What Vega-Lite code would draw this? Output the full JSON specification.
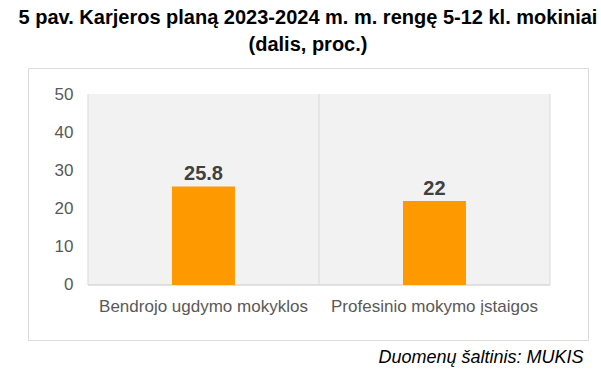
{
  "$schema": "https://vega.github.io/schema/vega-lite/v6.json",
  "autosize": "none",
  "width": 560,
  "height": 272,
  "padding": {"left": 28, "top": 68, "right": 13, "bottom": 35},
  "background": "white",
  "config": {
    "view": {"stroke": "#d9d9d9", "strokeWidth": 1},
    "font": "Liberation Sans"
  },
  "title": {
    "text": ["5 pav. Karjeros planą 2023-2024 m. m. rengę 5-12 kl. mokiniai", "(dalis, proc.)"],
    "font": "Liberation Sans",
    "fontSize": 20,
    "fontWeight": "bold",
    "color": "#000000",
    "lineHeight": 27,
    "anchor": "middle",
    "frame": "group",
    "offset": 13
  },
  "data": {
    "values": [
      {"cat": "Bendrojo ugdymo mokyklos", "value": 25.8},
      {"cat": "Profesinio mokymo įstaigos", "value": 22}
    ]
  },
  "layer": [
    {
      "mark": {"type": "rect", "fill": "#f2f2f2"},
      "encoding": {
        "x": {
          "field": "cat", "type": "nominal", "sort": null,
          "scale": {"paddingInner": 0, "paddingOuter": 0.2121, "align": 0.612},
          "axis": {
            "orient": "bottom", "labelAngle": 0, "domain": false, "ticks": false, "grid": false,
            "labelFontSize": 17, "labelColor": "#595959", "labelFont": "Liberation Sans", "labelLimit": 0,
            "offset": -40, "labelPadding": 6, "labelBaseline": "middle",
            "title": "Duomenų šaltinis: MUKIS",
            "titleFont": "Liberation Sans", "titleFontStyle": "italic", "titleFontWeight": "normal",
            "titleFontSize": 18, "titleColor": "#000000",
            "titleAnchor": "end", "titleAlign": "right", "titleX": 555, "titleY": 62, "titleBaseline": "alphabetic"
          }
        },
        "y": {
          "datum": 0, "type": "quantitative",
          "scale": {"domain": [-14.4, 56.81], "nice": false, "zero": false},
          "axis": {
            "orient": "left", "values": [0, 10, 20, 30, 40, 50], "domain": false, "ticks": false, "grid": false,
            "labelPadding": 0, "offset": -45, "labelFontSize": 17, "labelColor": "#595959",
            "labelFont": "Liberation Sans", "title": null
          }
        },
        "y2": {"datum": 50}
      }
    },
    {
      "mark": {"type": "rule", "color": "#d9d9d9", "strokeWidth": 1},
      "encoding": {
        "x": {"field": "cat", "type": "nominal", "sort": null, "bandPosition": 0},
        "y": {"datum": 0, "type": "quantitative"},
        "y2": {"datum": 50}
      }
    },
    {
      "transform": [{"filter": "datum.cat == 'Profesinio mokymo įstaigos'"}],
      "mark": {"type": "rule", "color": "#d9d9d9", "strokeWidth": 1},
      "encoding": {
        "x": {"field": "cat", "type": "nominal", "sort": null, "bandPosition": 1},
        "y": {"datum": 0, "type": "quantitative"},
        "y2": {"datum": 50}
      }
    },
    {
      "mark": {"type": "rect", "fill": null, "stroke": "#d9d9d9", "strokeWidth": 1},
      "encoding": {
        "x": {"field": "cat", "type": "nominal", "sort": null},
        "y": {"datum": 0, "type": "quantitative"},
        "y2": {"datum": 0}
      }
    },
    {
      "mark": {"type": "bar", "color": "#ff9900", "width": {"band": 0.2727}},
      "encoding": {
        "x": {"field": "cat", "type": "nominal", "sort": null},
        "y": {"field": "value", "type": "quantitative"},
        "y2": {"datum": 0}
      }
    },
    {
      "mark": {"type": "text", "dy": -6, "baseline": "alphabetic", "fontSize": 20, "fontWeight": "bold", "color": "#404040", "font": "Liberation Sans"},
      "encoding": {
        "x": {"field": "cat", "type": "nominal", "sort": null},
        "y": {"field": "value", "type": "quantitative"},
        "text": {"field": "value", "type": "quantitative"}
      }
    }
  ]
}
